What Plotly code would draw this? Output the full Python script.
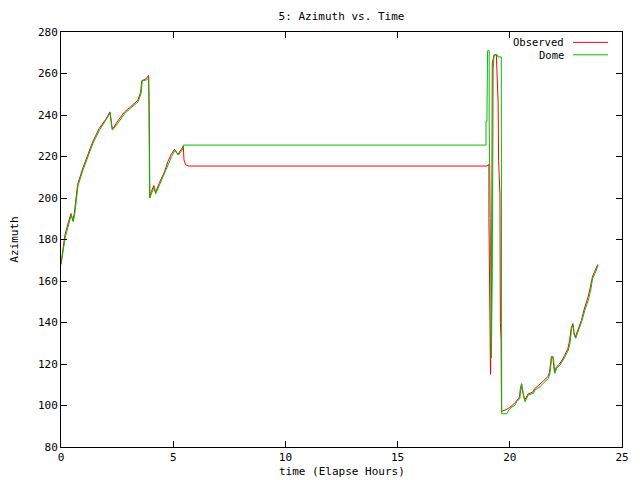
import plotly.graph_objects as go

# ---- data (hours, azimuth degrees) ----
dome_t = [0.00, 0.19, 0.46, 0.55, 0.61, 0.68, 0.76, 0.98, 1.20, 1.43, 1.72, 2.02, 2.20, 2.25, 2.29,
          2.51, 2.85, 3.07, 3.44, 3.57, 3.62, 3.82, 3.91, 3.95, 4.04, 4.16, 4.22, 4.41, 4.63, 4.78,
          4.93, 5.08, 5.23, 5.42, 5.45, 18.94, 18.94, 18.98, 18.98, 19.01, 19.08, 19.08, 19.13,
          19.15, 19.18, 19.22, 19.26, 19.30, 19.45, 19.47, 19.62, 19.64, 19.86, 20.01, 20.23,
          20.31, 20.45, 20.49, 20.53, 20.57, 20.63, 20.68, 20.82, 21.05, 21.12, 21.35, 21.49,
          21.72, 21.79, 21.87, 21.94, 21.97, 22.01, 22.09, 22.24, 22.46, 22.54, 22.61, 22.68,
          22.76, 22.83, 22.87, 22.94, 23.05, 23.20, 23.35, 23.50, 23.61, 23.69, 23.80, 23.87, 23.94]
dome_az = [168, 181, 192, 188.6, 192, 200, 206, 213.5, 220, 226.5, 232.8, 237.6, 241, 235, 232.8,
           235.7, 240.8, 243, 246.4, 250.6, 256.5, 256.9, 258, 200, 202.4, 205.4, 202, 207, 212, 216.7,
           220, 223, 220.7, 223.5, 225.5, 225.5, 237, 237, 262, 271, 271, 237, 190,
           150, 123, 166, 262, 269, 269, 268, 268, 96, 96, 98.6, 100.2,
           101.8, 103.5, 107.5, 110.4, 107.5, 104.3, 101.8, 105, 105.9, 107.5, 109.1, 110.7,
           113.1, 115.5, 123.2, 123.2, 119.5, 115.5, 117.9, 119.5, 123.5, 125.2, 126.7, 130,
           137.2, 138.8, 134, 132.4, 135.6, 140.4, 146, 150.8, 155.7, 161.3, 163.7, 165.3, 167.7]

obs_t = [0.00, 0.17, 0.44, 0.53, 0.59, 0.66, 0.74, 0.96, 1.18, 1.41, 1.70, 2.00, 2.18, 2.25, 2.29,
         2.49, 2.83, 3.05, 3.42, 3.55, 3.60, 3.80, 3.90, 3.93, 3.96, 4.02, 4.14, 4.21, 4.39, 4.61,
         4.76, 4.91, 5.06, 5.21, 5.40, 5.45, 5.48, 5.56, 5.70, 19.00, 19.03, 19.07, 19.07, 19.12,
         19.14, 19.16, 19.19, 19.22, 19.30, 19.40, 19.48, 19.50, 19.56, 19.58, 19.61, 19.63, 19.70,
         19.84, 19.99, 20.21, 20.29, 20.43, 20.47, 20.52, 20.55, 20.61, 20.66, 20.81, 21.03, 21.10,
         21.33, 21.47, 21.70, 21.77, 21.85, 21.92, 21.95, 21.99, 22.07, 22.22, 22.44, 22.52, 22.59,
         22.66, 22.74, 22.81, 22.86, 22.92, 23.04, 23.19, 23.33, 23.48, 23.59, 23.68, 23.78, 23.85, 23.92]
obs_az = [168, 182, 192.5, 189, 192.5, 200, 206.5, 214, 220.5, 227, 233.5, 238, 241.5, 235, 233,
          236.5, 241.5, 243.5, 247, 251, 256.5, 257.5, 259, 243, 200, 203, 206, 202.5, 207.5, 212.5,
          217.5, 221, 223.5, 221, 224, 225, 218.3, 215.9, 215.4, 215.4, 216, 216, 190, 140,
          115, 130, 160, 265, 269, 269, 246, 218, 202, 140, 132, 97, 97.5,
          98, 99, 101, 102, 104, 108, 110.5, 108, 105, 102.5, 105.5, 106.5, 108,
          110, 111.5, 114, 116, 123.5, 123.5, 120, 116, 118.5, 120, 124, 126, 127.5,
          131, 137.5, 139.5, 135, 133, 136.5, 141, 147, 152, 157, 162, 164.5, 166, 168]

series_names = ["Observed", "Dome"]
series_colors = ["#ff0000", "#00c000"]

FONT = "DejaVu Sans Mono"

fig = go.Figure()
fig.add_trace(go.Scatter(x=obs_t, y=obs_az, mode="lines", name=series_names[0],
                         line=dict(color=series_colors[0], width=1)))
fig.add_trace(go.Scatter(x=dome_t, y=dome_az, mode="lines", name=series_names[1],
                         line=dict(color=series_colors[1], width=1)))

axis_common = dict(showline=True, linecolor="black", linewidth=1, mirror="allticks",
                   ticks="inside", ticklen=6, tickcolor="black", tickwidth=1,
                   showgrid=False, zeroline=False, automargin=False,
                   tickfont=dict(family=FONT, size=11, color="black"))

# the page body has an 8px margin, so the figure is 632x472 placed at (8, 8)
fig.update_layout(
    width=632, height=472,
    margin=dict(l=53, r=18, t=24, b=33, autoexpand=False),
    paper_bgcolor="white", plot_bgcolor="white",
    showlegend=False,
    font=dict(family=FONT, size=11, color="black"),
    title=dict(text="5: Azimuth vs. Time", x=0.5, xref="paper", y=1 - 8 / 472,
               yref="container", xanchor="center", yanchor="middle",
               font=dict(family=FONT, size=11, color="black")),
    xaxis=dict(range=[0, 25], tickvals=[0, 5, 10, 15, 20, 25], **axis_common),
    yaxis=dict(range=[80, 280], tickvals=list(range(80, 281, 20)), **axis_common),
)

# axis titles
fig.add_annotation(x=0.5, y=-0.060, xref="paper", yref="paper", text="time (Elapse Hours)",
                   showarrow=False, xanchor="center", yanchor="middle",
                   font=dict(family=FONT, size=11, color="black"))
fig.add_annotation(x=-0.0835, y=0.5, xref="paper", yref="paper", text="Azimuth",
                   showarrow=False, xanchor="center", yanchor="middle", textangle=-90,
                   font=dict(family=FONT, size=11, color="black"))

# gnuplot-style legend: label right-aligned, line sample to the right
leg_y = [0.975, 0.945]
for name, color, yy in zip(series_names, series_colors, leg_y):
    fig.add_annotation(x=0.900, y=yy, xref="paper", yref="paper", text=name,
                       showarrow=False, xanchor="right", yanchor="middle",
                       font=dict(family=FONT, size=10.5, color="black"))
    fig.add_shape(type="line", xref="paper", yref="paper", x0=0.9127, x1=0.975,
                  y0=yy, y1=yy, line=dict(color=color, width=1))

fig.write_html("out.html")
